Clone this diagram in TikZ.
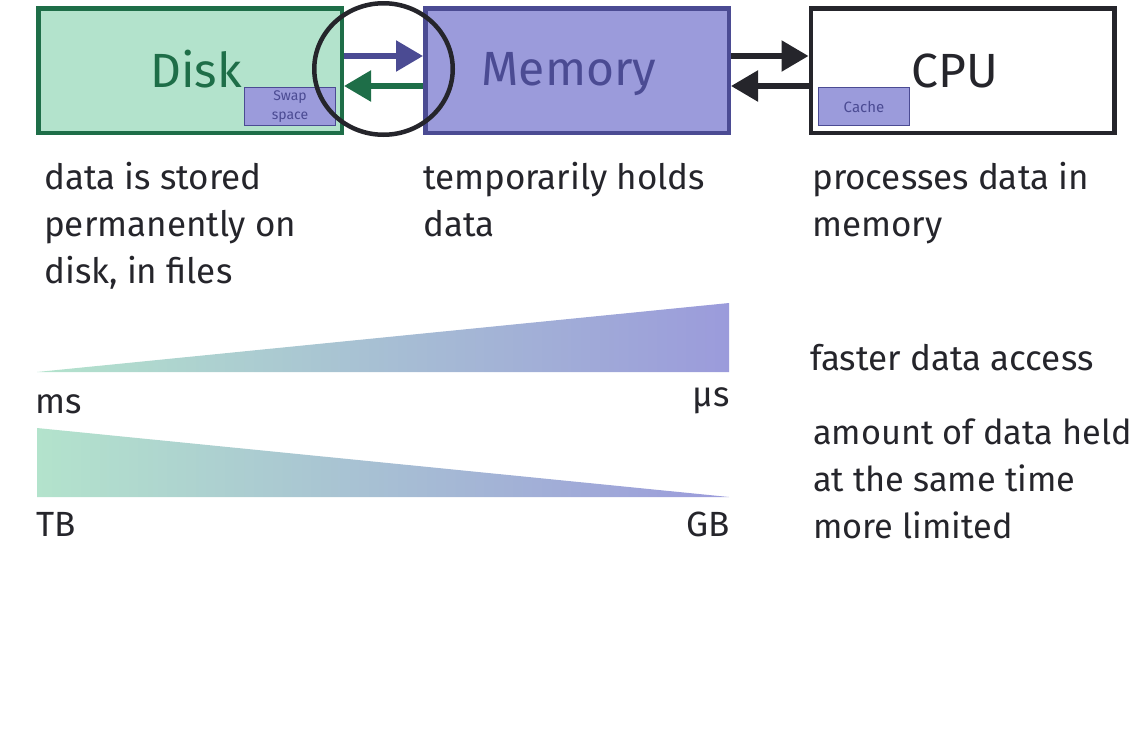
\documentclass[tikz,border=0pt]{standalone}
\usepackage{fontspec}
\setmainfont{Fira Sans}
\usetikzlibrary{arrows.meta,shapes.geometric}
\definecolor{dgreen}{HTML}{1E6E48}
\definecolor{lgreen}{HTML}{B3E3CC}
\definecolor{dpurple}{HTML}{4B4B93}
\definecolor{lpurple}{HTML}{9B9BDB}
\definecolor{ink}{HTML}{25252B}
\tikzset{
  bigbox/.style={draw, line width=4.5pt, minimum width=303.5pt, minimum height=124.5pt, inner sep=0pt},
  smallbox/.style={draw=dpurple, fill=lpurple, line width=1.3pt, minimum width=91pt, minimum height=38pt, inner sep=0pt, align=center, text=dpurple},
  bigarrow/.style={line width=5.5pt, -{Triangle[length=27pt,width=30pt]}},
  desc/.style={anchor=base west, inner sep=0pt, align=left, text=ink, font=\fontsize{35}{47}\selectfont},
  tick/.style={inner sep=0pt, text=ink, font=\fontsize{35}{38}\selectfont},
}
\begin{document}
\begin{tikzpicture}[x=1pt,y=-1pt]
\useasboundingbox (0,0) rectangle (1134,739);
% boxes
\node[bigbox, draw=dgreen, fill=lgreen] (disk) at (190,70.5) {};
\node[text=dgreen, font=\fontsize{48}{50}\selectfont, anchor=base] (disklbl) at (196,87) {Disk};
\node[smallbox, font=\fontsize{14}{19}\selectfont] (swap) at (290,106.5) {Swap\\space};
\node[bigbox, draw=dpurple, fill=lpurple] (mem) at (577,70.5) {};
\node[text=dpurple, font=\fontsize{48}{50}\selectfont, anchor=base] (memlbl) at (569,85) {Memory};
\node[bigbox, draw=ink, fill=white] (cpu) at (962.5,70.5) {};
\node[text=ink, font=\fontsize{48}{50}\selectfont, anchor=base] (cpulbl) at (955,87) {CPU};
\node[smallbox, font=\fontsize{15}{17}\selectfont] (cache) at (864,106.5) {Cache};
% arrows
\draw[bigarrow, dpurple] ([yshift=14.5pt]disk.east) -- ([yshift=14.5pt]mem.west);
\draw[bigarrow, dgreen] ([yshift=-15.5pt]mem.west) -- ([yshift=-15.5pt]disk.east);
\draw[bigarrow, ink] ([yshift=14.5pt]mem.east) -- ([yshift=14.5pt]cpu.west);
\draw[bigarrow, ink] ([yshift=-15.5pt]cpu.west) -- ([yshift=-15.5pt]mem.east);
% circle
\node[draw=ink, line width=4.5pt, ellipse, minimum width=138.5pt, minimum height=131.5pt, inner sep=0pt] (focus) at (383.5,69) {};
% descriptions (base = last line)
\node[desc] (d1) at (44,283) {data is stored\\permanently on\\disk, in files};
\node[desc] (d2) at (423,236) {temporarily holds\\data};
\node[desc] (d3) at (812,236) {processes data in\\memory};
% gradient triangles
\shade[left color=lgreen, right color=lpurple] (37,372) -- (729,372) -- (729,303) -- cycle;
\shade[left color=lgreen, right color=lpurple] (37,428) -- (37,497) -- (729,497) -- cycle;
\node[tick, anchor=base west] (ms) at (35,413) {ms};
\node[tick, anchor=base east] (us) at (730,406) {µs};
\node[tick, anchor=base west] (tb) at (36,536) {TB};
\node[tick, anchor=base east] (gb) at (730,536) {GB};
\node[desc] (fast) at (810,370) {faster data access};
\node[desc, font=\fontsize{34.3}{47}\selectfont] (amt) at (813,538) {amount of data held\\at the same time\\more limited};
\end{tikzpicture}
\end{document}
